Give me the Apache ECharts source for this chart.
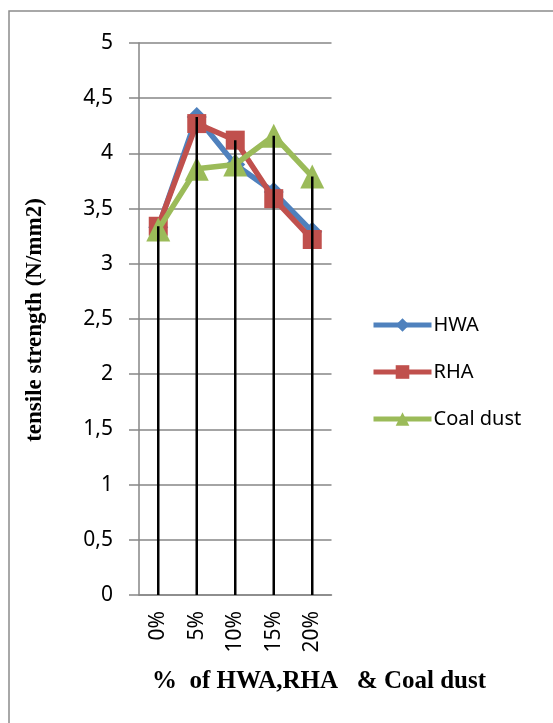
<!DOCTYPE html>
<html>
<head>
<meta charset="utf-8">
<script src="https://cdn.jsdelivr.net/npm/echarts@6/dist/echarts.min.js"></script>
<style>
  html, body { margin: 0; padding: 0; background: #fff; }
  #chart { width: 553px; height: 723px; }
</style>
</head>
<body>
<div id="chart"></div>
<script>
// Replacement level of each additive
const categories = ['0%', '5%', '10%', '15%', '20%'];

// Tensile strength (N/mm2) per additive
const hwa = [3.33, 4.33, 3.90, 3.65, 3.29];
const rha = [3.34, 4.27, 4.12, 3.59, 3.22];
const coalDust = [3.31, 3.86, 3.90, 4.16, 3.79];

// Drop lines run from the axis up to the highest value in each category
const dropTops = categories.map((_, i) => Math.max(hwa[i], rha[i], coalDust[i]));

const chart = echarts.init(document.getElementById('chart'));

const tickFont = 'Noto Sans, sans-serif';
const titleFont = 'Liberation Serif, Times New Roman, serif';

function lineSeries(name, data, symbol, size, color, z) {
  return {
    name: name,
    type: 'line',
    data: data,
    symbol: symbol,
    symbolSize: size,
    color: color,
    lineStyle: { width: 5.5, color: color },
    itemStyle: { color: color },
    emphasis: { disabled: true },
    z: z
  };
}

chart.setOption({
  animation: false,
  backgroundColor: '#ffffff',
  graphic: [
    {
      type: 'rect',
      shape: { x: 9, y: 11, width: 600, height: 760 },
      style: { fill: 'none', stroke: '#8c8c8c', lineWidth: 1.5 },
      silent: true
    },
    {
      type: 'text',
      left: 152,
      top: 669,
      style: {
        text: '%  of HWA,RHA   & Coal dust',
        font: 'bold 25px ' + titleFont,
        fill: '#000'
      }
    },
    {
      type: 'text',
      x: 35,
      y: 320,
      rotation: Math.PI / 2,
      style: {
        text: 'tensile strength (N/mm2)',
        font: 'bold 23px ' + titleFont,
        fill: '#000',
        align: 'center',
        verticalAlign: 'middle'
      }
    }
  ],
  grid: { left: 139, top: 43, width: 192.5, height: 552 },
  legend: {
    data: ['HWA', 'RHA', 'Coal dust'],
    orient: 'vertical',
    left: 366,
    top: 310,
    itemWidth: 58,
    itemHeight: 17,
    itemGap: 27,
    lineStyle: { width: 5 },
    textStyle: { fontFamily: tickFont, fontSize: 20, color: '#000', padding: [0, 0, 0, -3] }
  },
  xAxis: {
    type: 'category',
    data: categories,
    boundaryGap: true,
    axisLine: { lineStyle: { color: '#868686', width: 1.5 } },
    axisTick: { show: false },
    axisLabel: {
      rotate: 90,
      margin: 16,
      fontFamily: tickFont,
      fontSize: 21,
      color: '#000'
    }
  },
  yAxis: {
    type: 'value',
    min: 0,
    max: 5,
    interval: 0.5,
    axisLine: { show: true, lineStyle: { color: '#868686', width: 1.5 } },
    axisTick: { show: true, length: 10, lineStyle: { color: '#868686', width: 1.5 } },
    splitLine: { lineStyle: { color: '#868686', width: 1.5 } },
    axisLabel: {
      margin: 26,
      fontFamily: tickFont,
      fontSize: 21,
      color: '#000',
      formatter: v => String(v).replace('.', ',')
    }
  },
  series: [
    lineSeries('HWA', hwa, 'diamond', 20, '#4f81bd', 3),
    lineSeries('RHA', rha, 'rect', 19, '#c0504d', 4),
    lineSeries('Coal dust', coalDust, 'triangle', 24, '#9bbb59', 5),
    {
      name: 'drop',
      type: 'bar',
      data: dropTops,
      barWidth: 2.5,
      itemStyle: { color: '#000' },
      silent: true,
      z: 10
    }
  ]
});
</script>
</body>
</html>
